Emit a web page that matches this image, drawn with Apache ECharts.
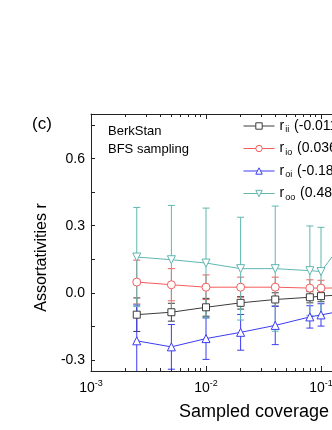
<!DOCTYPE html>
<html>
<head>
<meta charset="utf-8">
<script src="https://cdn.jsdelivr.net/npm/echarts@6/dist/echarts.min.js"></script>
<style>
  html, body { margin: 0; padding: 0; overflow: hidden; background: #fff; }
  #chart { width: 470px; height: 430px; }
</style>
</head>
<body>
<div id="chart"></div>
<script>
// sampled coverage (x) and mean assortativities per sample size
const coverage = [0.0025, 0.005, 0.01, 0.02, 0.04, 0.08, 0.1, 0.2]
const rii = [-0.098, -0.087, -0.065, -0.045, -0.03, -0.02, -0.015, -0.005]
const rio = [0.048, 0.036, 0.025, 0.025, 0.025, 0.021, 0.021, 0.022]
const roi = [-0.215, -0.242, -0.205, -0.177, -0.146, -0.108, -0.099, -0.07]
const roo = [0.16, 0.148, 0.133, 0.108, 0.108, 0.099, 0.095, 0.3]
// error bar half widths (std)
const riiErr = [0.075, 0.04, 0.04, 0.028, 0.03, 0.025, 0.025, 0.02]
const rioErr = [0.098, 0.072, 0.055, 0.045, 0.045, 0.037, 0.035, 0.03]
const roiErr = [0.16, 0.1, 0.093, 0.08, 0.086, 0.05, 0.05, 0.04]
const rooErr = [0.222, 0.243, 0.246, 0.23, 0.28, 0.2, 0.198, 0.15]
// legend labels
const subs = ['ii', 'io', 'oi', 'oo']
const fullValues = ['(-0.011)', '(0.036)', '(-0.184)', '(0.481)']
const yMajor = [-0.3, 0, 0.3, 0.6]
const yTicks = [-0.3, -0.15, 0, 0.15, 0.3, 0.45, 0.6, 0.75]

const colors = ['#3c3c3c', '#f45b5b', '#3b3bf5', '#5fb7b0']
const symbols = ['rect', 'circle', 'triangle', 'triangle']
const rotates = [0, 0, 0, 180]
const means = [rii, rio, roi, roo]
const errs = [riiErr, rioErr, roiErr, rooErr]
const names = subs.map((s) => 'r_' + s)
const font = 'Liberation Sans, Arial, sans-serif'

const chart = echarts.init(document.getElementById('chart'))

const errorSeries = means.map((m, k) => ({
  type: 'custom',
  name: names[k] + '_err',
  xAxisIndex: 0,
  yAxisIndex: 0,
  clip: true,
  silent: true,
  data: coverage.map((c, i) => [c, m[i] - errs[k][i], m[i] + errs[k][i]]),
  renderItem: (params, api) => {
    const lo = api.coord([api.value(0), api.value(1)])
    const hi = api.coord([api.value(0), api.value(2)])
    const st = { stroke: colors[k], lineWidth: 1 }
    return {
      type: 'group',
      children: [
        { type: 'line', shape: { x1: hi[0], y1: hi[1], x2: lo[0], y2: lo[1] }, style: st },
        { type: 'line', shape: { x1: hi[0] - 3.5, y1: hi[1], x2: hi[0] + 3.5, y2: hi[1] }, style: st },
        { type: 'line', shape: { x1: lo[0] - 3.5, y1: lo[1], x2: lo[0] + 3.5, y2: lo[1] }, style: st }
      ]
    }
  }
}))

const lineSeries = means.map((m, k) => ({
  type: 'line',
  name: names[k],
  xAxisIndex: 0,
  yAxisIndex: 0,
  data: coverage.map((c, i) => [c, m[i]]),
  symbol: symbols[k],
  symbolRotate: rotates[k],
  symbolSize: k === 0 ? 7 : 8,
  lineStyle: { color: colors[k], width: 1 },
  itemStyle: { color: '#fff', borderColor: colors[k], borderWidth: 1 },
  emphasis: { disabled: true }
}))

const axisLine = { show: true, onZero: false, lineStyle: { color: '#222', width: 1 } }
const tickStyle = { color: '#222' }

chart.setOption({
  animation: false,
  grid: { left: 91, top: 114, width: 345, height: 257 },
  legend: {
    data: names,
    orient: 'vertical',
    left: 243,
    top: 119,
    padding: 0,
    itemWidth: 31,
    itemHeight: 8,
    itemGap: 7,
    itemStyle: { borderWidth: 1 },
    lineStyle: { width: 1 },
    textStyle: {
      fontFamily: font,
      fontSize: 14,
      color: '#000',
      rich: {
        sub: { fontSize: 9, padding: [8, 1, 0, 1], fontFamily: font }
      }
    },
    formatter: (name) => {
      const k = names.indexOf(name)
      return 'r{sub|' + subs[k] + '} ' + fullValues[k]
    }
  },
  xAxis: [
    {
      type: 'log',
      logBase: 10,
      min: 0.001,
      max: 1,
      position: 'bottom',
      axisLine,
      axisTick: { inside: true, length: 5, lineStyle: tickStyle },
      minorTick: { show: true, splitNumber: 9, length: 3, lineStyle: tickStyle },
      splitLine: { show: false },
      axisLabel: {
        margin: 8,
        color: '#000',
        fontSize: 14,
        fontFamily: font,
        formatter: (v) => '10{sup|' + Math.round(Math.log10(v)) + '}',
        rich: {
          sup: { fontSize: 9, padding: [0, 0, 9, 0], fontFamily: font }
        }
      }
    },
    {
      type: 'log',
      logBase: 10,
      min: 0.001,
      max: 1,
      position: 'top',
      axisLine,
      axisTick: { inside: true, length: 5, lineStyle: tickStyle },
      minorTick: { show: true, splitNumber: 9, length: 3, lineStyle: tickStyle },
      splitLine: { show: false },
      axisLabel: { show: false }
    }
  ],
  yAxis: [
    {
      type: 'value',
      min: -0.35,
      max: 0.8,
      position: 'left',
      axisLine,
      axisTick: { inside: true, length: 4, customValues: yTicks, lineStyle: tickStyle },
      splitLine: { show: false },
      axisLabel: {
        customValues: yMajor,
        margin: 6,
        color: '#000',
        fontSize: 14,
        fontFamily: font,
        formatter: (v) => v.toFixed(1)
      },
      name: 'Assortativities r',
      nameLocation: 'middle',
      nameGap: 36,
      nameTextStyle: {
        fontSize: 16,
        color: '#000',
        fontFamily: font,
        padding: [0, 30, 0, 0]
      }
    },
    {
      type: 'value',
      min: -0.35,
      max: 0.8,
      position: 'right',
      axisLine,
      axisTick: { inside: true, length: 4, customValues: yTicks, lineStyle: tickStyle },
      splitLine: { show: false },
      axisLabel: { show: false }
    }
  ],
  graphic: [
    { type: 'text', left: 32, top: 116, style: { text: '(c)', fontSize: 17, fill: '#000', fontFamily: font } },
    { type: 'text', left: 108, top: 125, style: { text: 'BerkStan', fontSize: 13, fill: '#000', fontFamily: font } },
    { type: 'text', left: 108, top: 143, style: { text: 'BFS sampling', fontSize: 13, fill: '#000', fontFamily: font } },
    { type: 'text', left: 179, top: 403, style: { text: 'Sampled coverage', fontSize: 18, fill: '#000', fontFamily: font } }
  ],
  series: [...errorSeries, ...lineSeries]
})
</script>
</body>
</html>
